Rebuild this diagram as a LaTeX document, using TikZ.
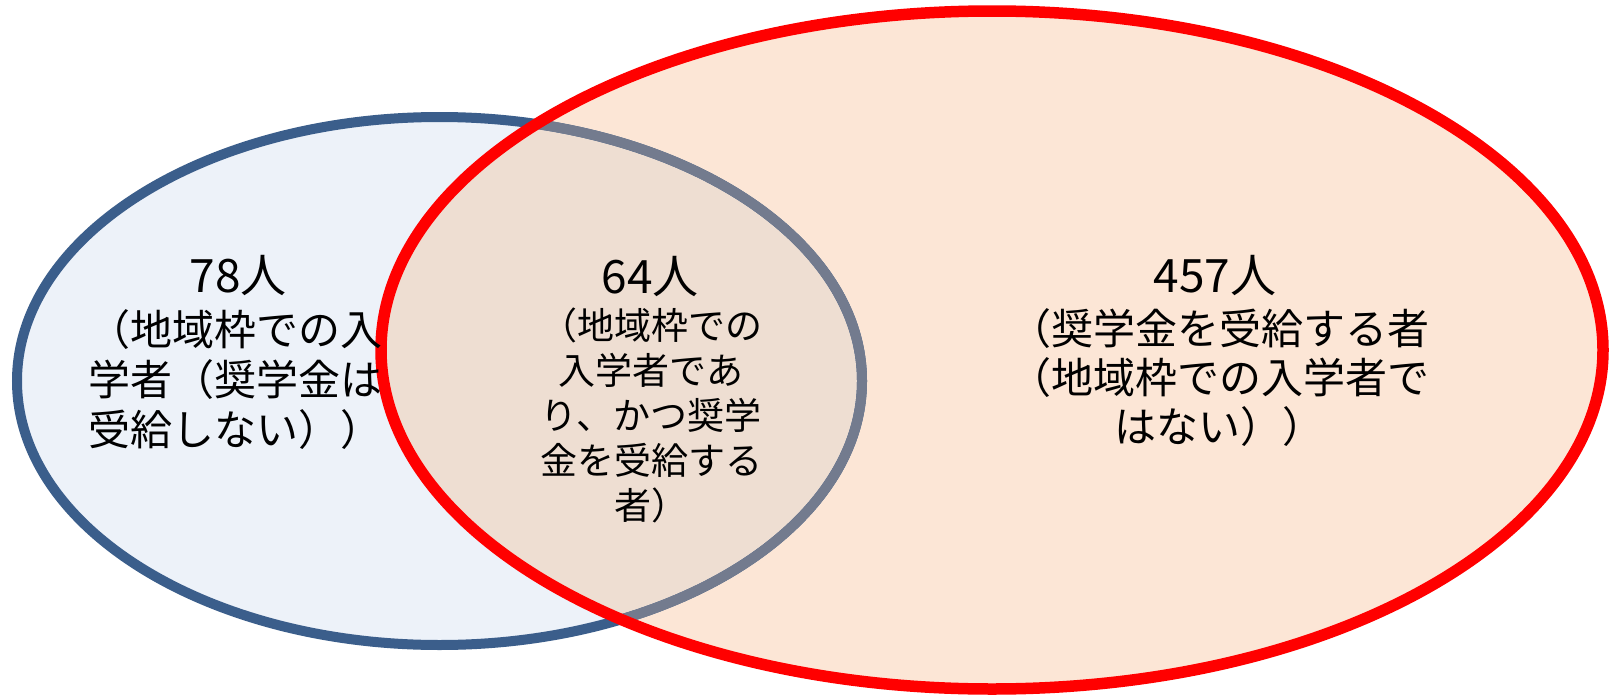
\documentclass[tikz,border=0pt]{standalone}
\usepackage{fontspec}
\newfontfamily\cjk{Noto Sans CJK JP}
\definecolor{blueline}{HTML}{3B5E8B}
\definecolor{bluefill}{HTML}{EDF2F9}
\definecolor{peachfill}{HTML}{FCE6D6}
\definecolor{mixfill}{HTML}{EEDED2}
\definecolor{greyline}{HTML}{737B8E}
\definecolor{redline}{HTML}{FF0000}
\tikzset{
  numtext/.style={inner sep=0pt, font=\cjk\fontsize{46}{54}\selectfont},
  bigtext/.style={inner sep=0pt, align=center, font=\cjk\fontsize{42}{50}\selectfont},
  midtext/.style={inner sep=0pt, align=center, font=\cjk\fontsize{37}{45}\selectfont},
  righttext/.style={inner sep=0pt, align=center, font=\cjk\fontsize{42}{49}\selectfont},
}
\begin{document}
\begin{tikzpicture}[x=1pt,y=-1pt]
\useasboundingbox (0,0) rectangle (1617,696);
\def\bluepath{(439.5,381) ellipse [x radius=422.5, y radius=264]}
\def\redpath{(992,350) ellipse [x radius=611, y radius=339]}
% fills
\fill[bluefill] \bluepath;
\fill[peachfill] \redpath;
\begin{scope}
  \clip \bluepath;
  \fill[mixfill] \redpath;
\end{scope}
% blue outline
\draw[blueline, line width=10pt] \bluepath;
\begin{scope}
  \clip \redpath;
  \draw[greyline, line width=10pt] \bluepath;
\end{scope}
% red outline
\draw[redline, line width=11.5pt] \redpath;
% texts
\node[numtext] (n78) at (238,276) {78人};
\node[bigtext] (t78) at (235,380) {（地域枠での入\\学者（奨学金は\\受給しない））};
\node[numtext] (n64) at (650,277) {64人};
\node[midtext] (t64) at (651,415) {（地域枠での\\入学者であ\\り、かつ奨学\\金を受給する\\者）};
\node[numtext] (n457) at (1215,276) {457人};
\node[righttext] (t457) at (1219,378) {（奨学金を受給する者\\（地域枠での入学者で\\はない））};
\end{tikzpicture}
\end{document}
